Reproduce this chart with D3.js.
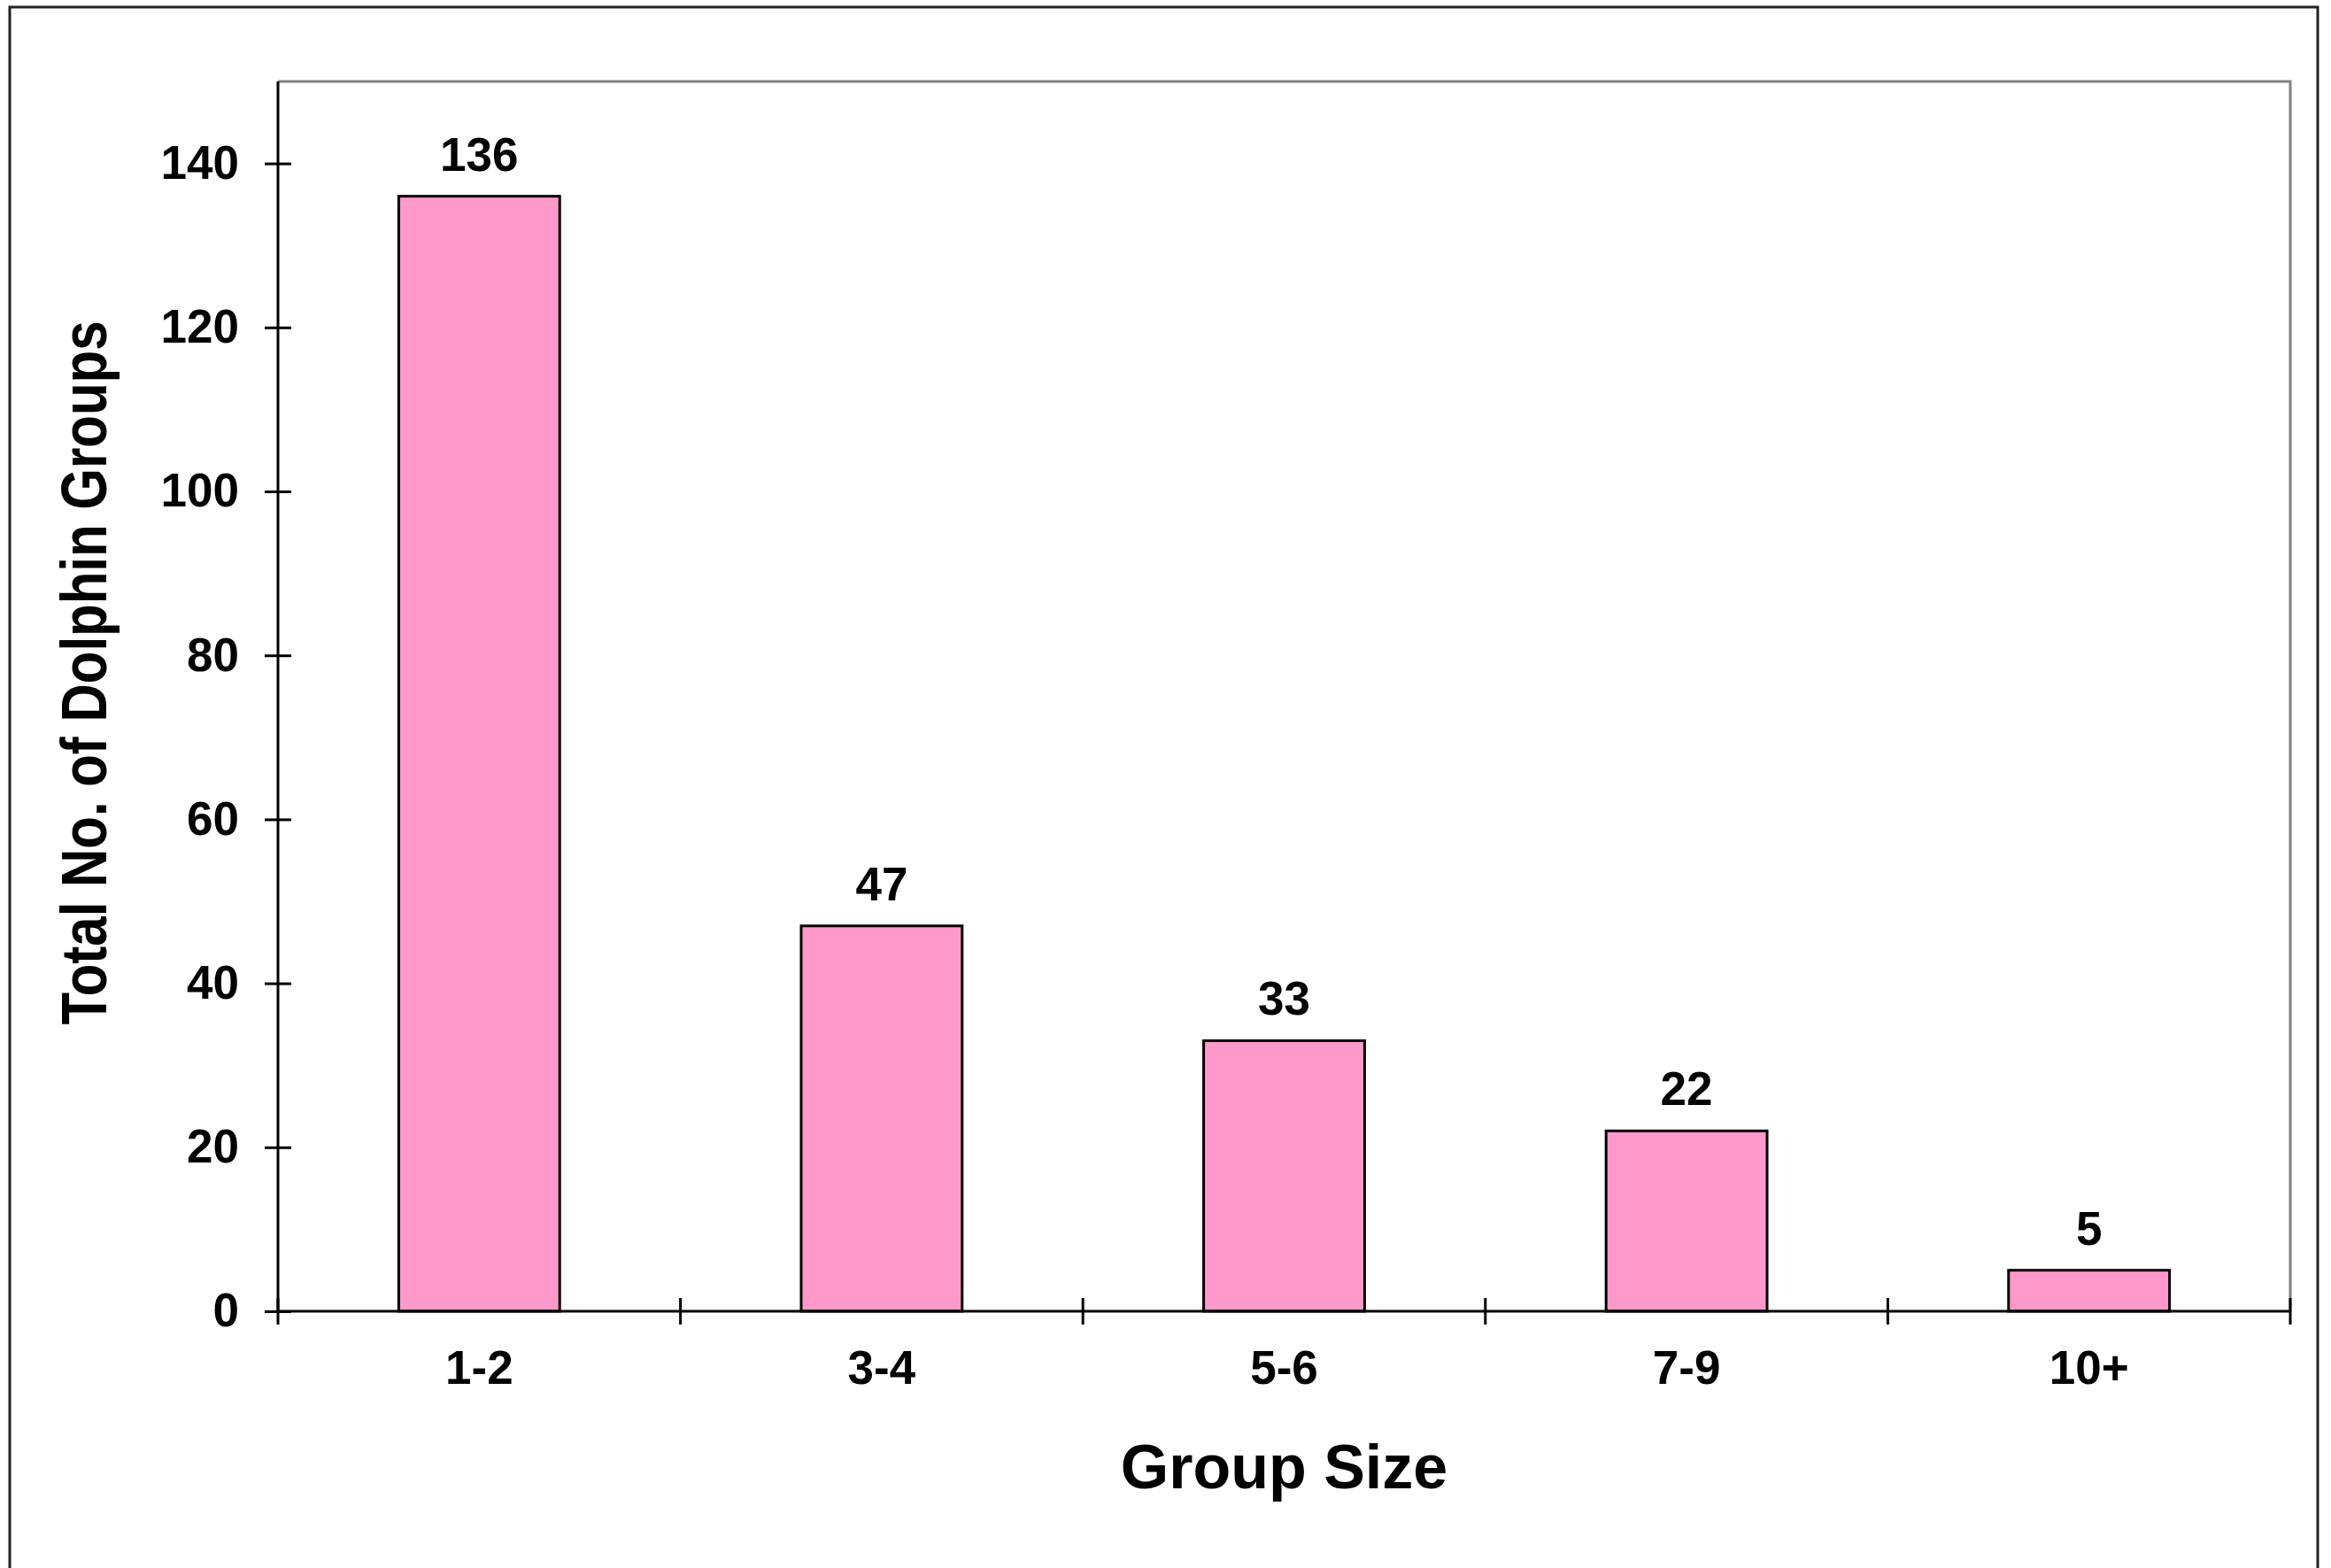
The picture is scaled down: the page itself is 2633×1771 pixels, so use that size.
<!DOCTYPE html>
<html lang="en">

<head>
    <meta charset="UTF-8">
    <title>Dolphin Group Size</title>
    <style>
        body {
            margin: 0;
            background: #fff;
        }

        text {
            font-family: "Liberation Sans", Arial, sans-serif;
            font-weight: bold;
            fill: #000;
        }

        .axis path,
        .axis line {
            stroke: #000;
            stroke-width: 3px;
        }

        .bar {
            fill: #ff99cc;
            stroke: #000;
            stroke-width: 3px;
        }
    </style>
</head>

<body>
    <script src="https://d3js.org/d3.v7.min.js"></script>
    <script>
        // data
        const groupSizes = ["1-2", "3-4", "5-6", "7-9", "10+"];
        const groupCounts = [136, 47, 33, 22, 5];
        const yTicks = [0, 20, 40, 60, 80, 100, 120, 140];

        const width = 2633;
        const height = 1771;
        const plot = { left: 314, top: 92, right: 2587, bottom: 1481 };

        const svg = d3.select("body").append("svg")
            .attr("width", width)
            .attr("height", height);

        // outer frame
        svg.append("rect")
            .attr("x", 11)
            .attr("y", 8)
            .attr("width", 2607)
            .attr("height", 1780)
            .attr("fill", "#fff")
            .attr("stroke", "#222")
            .attr("stroke-width", 3);

        const x = d3.scaleBand()
            .domain(groupSizes)
            .range([plot.left, plot.right])
            .paddingInner(0.6)
            .paddingOuter(0.3);

        const y = d3.scaleLinear()
            .domain([0, 150])
            .range([plot.bottom, plot.top]);

        // plot area border (top and right are grey)
        svg.append("path")
            .attr("d", `M${plot.left},${plot.top}H${plot.right}V${plot.bottom}`)
            .attr("fill", "none")
            .attr("stroke", "#808080")
            .attr("stroke-width", 3);

        const data = groupSizes.map((g, i) => ({ group: g, count: groupCounts[i] }));

        svg.selectAll(".bar")
            .data(data)
            .join("rect")
            .attr("class", "bar")
            .attr("x", d => x(d.group))
            .attr("y", d => y(d.count))
            .attr("width", x.bandwidth())
            .attr("height", d => y(0) - y(d.count));

        svg.selectAll(".value")
            .data(data)
            .join("text")
            .attr("class", "value")
            .attr("x", d => x(d.group) + x.bandwidth() / 2)
            .attr("y", d => y(d.count) - 29)
            .attr("text-anchor", "middle")
            .attr("font-size", 53)
            .text(d => d.count);

        // y axis, ticks cross the line
        const yAxis = svg.append("g")
            .attr("class", "axis")
            .attr("transform", `translate(${plot.left},0)`)
            .call(d3.axisLeft(y).tickValues(yTicks).tickSize(15).tickSizeOuter(0).tickPadding(29));
        yAxis.selectAll(".tick line").attr("x2", 15).attr("x1", -15);
        yAxis.selectAll(".tick text")
            .attr("font-size", 53)
            .attr("font-family", null);
        yAxis.select(".domain").attr("d", `M0,${plot.top}V${plot.bottom}`);

        // x axis: labels centred, ticks on category boundaries
        const xAxis = svg.append("g")
            .attr("class", "axis")
            .attr("transform", `translate(0,${plot.bottom})`)
            .call(d3.axisBottom(x).tickSize(0).tickSizeOuter(0));
        xAxis.selectAll(".tick text")
            .attr("y", 82)
            .attr("dy", 0)
            .attr("font-size", 53)
            .attr("font-family", null);
        xAxis.select(".domain").attr("d", `M${plot.left},0H${plot.right}`);

        const edge = x.step() * x.paddingOuter();
        const bounds = groupSizes.map(g => x(g) - edge).concat([plot.right]);
        xAxis.selectAll(".bound")
            .data(bounds)
            .join("line")
            .attr("class", "bound")
            .attr("x1", d => d)
            .attr("x2", d => d)
            .attr("y1", -15)
            .attr("y2", 15);

        // axis titles
        svg.append("text")
            .attr("x", (plot.left + plot.right) / 2)
            .attr("y", 1681)
            .attr("text-anchor", "middle")
            .attr("font-size", 70)
            .text("Group Size");

        svg.append("text")
            .attr("transform", "translate(120,760) rotate(-90)")
            .attr("text-anchor", "middle")
            .attr("font-size", 72)
            .attr("textLength", 795)
            .attr("lengthAdjust", "spacingAndGlyphs")
            .text("Total No. of Dolphin Groups");
    </script>
</body>

</html>
